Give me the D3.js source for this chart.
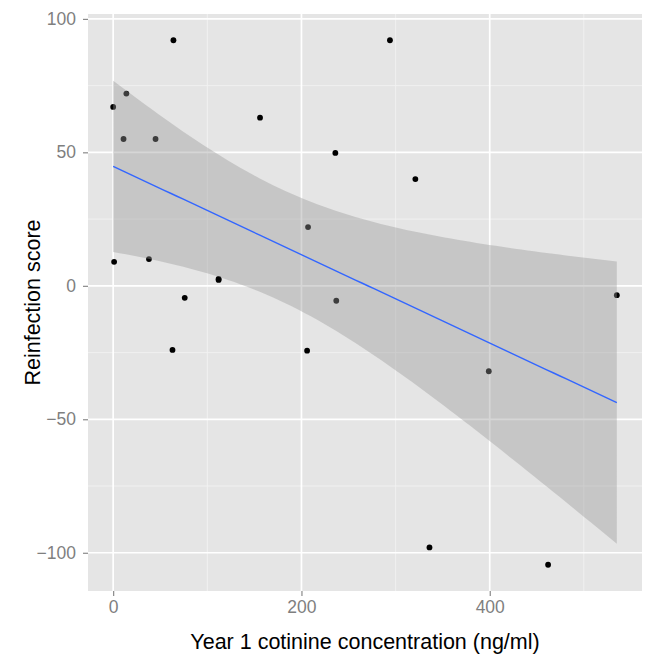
<!DOCTYPE html>
<html>
<head>
<meta charset="utf-8">
<script src="https://cdn.jsdelivr.net/npm/d3@7"></script>
<style>
  body { margin: 0; background: #fff; }
  svg text { font-family: "Liberation Sans", Arial, Helvetica, sans-serif; }
</style>
</head>
<body>
<div id="chart"></div>
<script>
// ---------- Data ----------
const cotinine = [0, 1, 14, 11, 45, 38, 64, 63, 76, 112, 112, 156, 207, 206, 236, 237, 294, 321, 336, 399, 462, 535];
const reinfection = [67, 9, 72, 55, 55, 10, 92, -24, -4.5, 2.6, 2.2, 63, 22, -24.3, 49.8, -5.6, 92, 40, -98, -32, -104.5, -3.5];
const xTicks = [0, 200, 400];
const xMinor = [100, 300, 500];
const yTicks = [-100, -50, 0, 50, 100];
const yMinor = [-75, -25, 25, 75];

// ---------- Layout ----------
const width = 649, height = 658;
const margin = { top: 14, right: 7, bottom: 67, left: 88 };
const innerWidth = width - margin.left - margin.right;
const innerHeight = height - margin.top - margin.bottom;

const svg = d3.select("#chart").append("svg")
  .attr("width", width)
  .attr("height", height);

const g = svg.append("g")
  .attr("transform", `translate(${margin.left},${margin.top})`);

// ---------- Scales (ggplot-style 5% expansion) ----------
function expand([a, b]) {
  const pad = (b - a) * 0.05;
  return [a - pad, b + pad];
}

const x = d3.scaleLinear()
  .domain(expand(d3.extent(cotinine)))
  .range([0, innerWidth]);

const y = d3.scaleLinear()
  .domain(expand(d3.extent(reinfection)))
  .range([innerHeight, 0]);

// ---------- Panel + grid ----------
g.append("rect")
  .attr("width", innerWidth)
  .attr("height", innerHeight)
  .attr("fill", "#E5E5E5");

g.selectAll(".xminor").data(xMinor).enter().append("line")
  .attr("x1", d => x(d)).attr("x2", d => x(d))
  .attr("y1", 0).attr("y2", innerHeight)
  .attr("stroke", "#F2F2F2").attr("stroke-width", 0.9);

g.selectAll(".yminor").data(yMinor).enter().append("line")
  .attr("y1", d => y(d)).attr("y2", d => y(d))
  .attr("x1", 0).attr("x2", innerWidth)
  .attr("stroke", "#F2F2F2").attr("stroke-width", 0.9);

g.selectAll(".xmajor").data(xTicks).enter().append("line")
  .attr("x1", d => x(d)).attr("x2", d => x(d))
  .attr("y1", 0).attr("y2", innerHeight)
  .attr("stroke", "#fff").attr("stroke-width", 1.7);

g.selectAll(".ymajor").data(yTicks).enter().append("line")
  .attr("y1", d => y(d)).attr("y2", d => y(d))
  .attr("x1", 0).attr("x2", innerWidth)
  .attr("stroke", "#fff").attr("stroke-width", 1.7);

// ---------- Points ----------
const points = cotinine.map((c, i) => ({ x: c, y: reinfection[i] }));

g.selectAll(".dot").data(points).enter().append("circle")
  .attr("cx", d => x(d.x))
  .attr("cy", d => y(d.y))
  .attr("r", 2.9)
  .attr("fill", "#000");

// ---------- Linear fit with 95% CI ----------
const n = points.length;
const mx = d3.mean(points, d => d.x);
const my = d3.mean(points, d => d.y);
const sxx = d3.sum(points, d => (d.x - mx) ** 2);
const sxy = d3.sum(points, d => (d.x - mx) * (d.y - my));
const slope = sxy / sxx;
const intercept = my - slope * mx;
const rss = d3.sum(points, d => (d.y - intercept - slope * d.x) ** 2);
const s = Math.sqrt(rss / (n - 2));
const tCrit = 2.086; // t(0.975, df = 20)

const [xLo, xHi] = d3.extent(cotinine);
const fit = d3.range(80).map(i => {
  const xv = xLo + (xHi - xLo) * i / 79;
  const yv = intercept + slope * xv;
  const se = s * Math.sqrt(1 / n + (xv - mx) ** 2 / sxx);
  return { x: xv, y: yv, lo: yv - tCrit * se, hi: yv + tCrit * se };
});

g.append("path")
  .datum(fit)
  .attr("fill", "#999999")
  .attr("fill-opacity", 0.4)
  .attr("d", d3.area().x(d => x(d.x)).y0(d => y(d.lo)).y1(d => y(d.hi)));

g.append("path")
  .datum(fit)
  .attr("fill", "none")
  .attr("stroke", "#3366FF")
  .attr("stroke-width", 1.4)
  .attr("d", d3.line().x(d => x(d.x)).y(d => y(d.y)));

// ---------- Axes ----------
const xAxis = g.append("g")
  .attr("transform", `translate(0,${innerHeight})`)
  .call(d3.axisBottom(x).tickValues(xTicks).tickSize(5).tickPadding(5));

const yAxis = g.append("g")
  .call(d3.axisLeft(y).tickValues(yTicks).tickSize(5).tickPadding(7)
    .tickFormat(d => d < 0 ? "\u2212" + Math.abs(d) : d));

[xAxis, yAxis].forEach(ax => {
  ax.select(".domain").remove();
  ax.selectAll(".tick line").attr("stroke", "#7F7F7F").attr("stroke-width", 1.1);
  ax.selectAll(".tick text")
    .attr("fill", "#7F7F7F")
    .style("font-size", "17.5px");
});

// ---------- Axis titles ----------
svg.append("text")
  .attr("x", margin.left + innerWidth / 2)
  .attr("y", 649)
  .attr("text-anchor", "middle")
  .style("font-size", "21.5px")
  .attr("fill", "#000")
  .text("Year 1 cotinine concentration (ng/ml)");

svg.append("text")
  .attr("transform", "rotate(-90)")
  .attr("x", -(margin.top + innerHeight / 2))
  .attr("y", 40)
  .attr("text-anchor", "middle")
  .style("font-size", "21.5px")
  .attr("fill", "#000")
  .text("Reinfection score");
</script>
</body>
</html>
